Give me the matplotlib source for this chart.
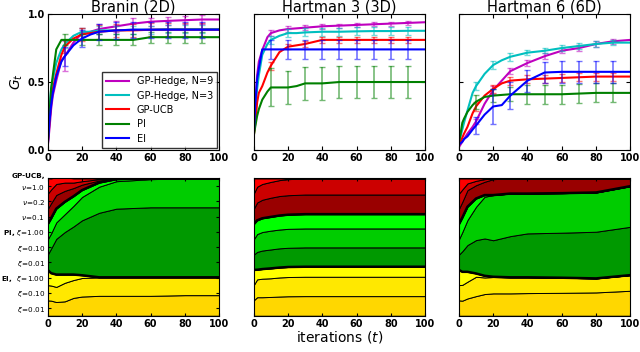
import numpy as np
import matplotlib
matplotlib.use("Agg")
import matplotlib.pyplot as plt

# ---- top row: G_t curves ----
titles = ["Branin (2D)", "Hartman 3 (3D)", "Hartman 6 (6D)"]
labels = ["GP-Hedge, N=9", "GP-Hedge, N=3", "GP-UCB", "PI", "EI"]
colors = ["m", "c", "r", "g", "b"]

it = [0, 1, 2, 3, 5, 8, 10, 15, 20, 25, 30, 40, 50, 60, 70, 80, 90, 100]
err_it = [10, 20, 30, 40, 50, 60, 70, 80, 90]

branin = [
    [0.02, 0.15, 0.30, 0.40, 0.51, 0.66, 0.69, 0.79, 0.86, 0.87, 0.89, 0.91, 0.93, 0.944, 0.95, 0.955, 0.96, 0.96],
    [0.05, 0.30, 0.45, 0.52, 0.64, 0.74, 0.78, 0.84, 0.87, 0.87, 0.88, 0.88, 0.885, 0.885, 0.89, 0.89, 0.89, 0.89],
    [0.03, 0.20, 0.35, 0.45, 0.56, 0.70, 0.76, 0.82, 0.85, 0.86, 0.87, 0.88, 0.88, 0.885, 0.885, 0.885, 0.885, 0.885],
    [0.05, 0.25, 0.45, 0.55, 0.74, 0.81, 0.81, 0.81, 0.81, 0.81, 0.81, 0.81, 0.81, 0.83, 0.83, 0.83, 0.83, 0.83],
    [0.02, 0.20, 0.33, 0.42, 0.54, 0.65, 0.69, 0.77, 0.82, 0.85, 0.87, 0.88, 0.885, 0.885, 0.885, 0.885, 0.885, 0.885],
]
branin_err = [
    [0.11, 0.04, 0.04, 0.04, 0.04, 0.03, 0.03, 0.03, 0.03],
    [0.03, 0.03, 0.03, 0.03, 0.03, 0.03, 0.03, 0.03, 0.03],
    [0.05, 0.05, 0.05, 0.05, 0.05, 0.05, 0.05, 0.05, 0.05],
    [0.04, 0.04, 0.04, 0.04, 0.04, 0.04, 0.04, 0.04, 0.04],
    [0.07, 0.06, 0.06, 0.06, 0.06, 0.06, 0.06, 0.06, 0.06],
]
hart3 = [
    [0.10, 0.35, 0.55, 0.65, 0.735, 0.83, 0.86, 0.88, 0.89, 0.895, 0.90, 0.91, 0.915, 0.92, 0.925, 0.93, 0.935, 0.94],
    [0.10, 0.30, 0.45, 0.55, 0.70, 0.78, 0.81, 0.84, 0.86, 0.86, 0.865, 0.87, 0.87, 0.873, 0.875, 0.875, 0.877, 0.877],
    [0.10, 0.20, 0.35, 0.42, 0.47, 0.57, 0.62, 0.72, 0.76, 0.77, 0.78, 0.81, 0.81, 0.81, 0.81, 0.81, 0.81, 0.81],
    [0.10, 0.18, 0.25, 0.30, 0.37, 0.43, 0.46, 0.46, 0.46, 0.47, 0.49, 0.49, 0.50, 0.50, 0.50, 0.50, 0.50, 0.50],
    [0.10, 0.35, 0.52, 0.60, 0.74, 0.74, 0.74, 0.74, 0.74, 0.74, 0.74, 0.74, 0.74, 0.74, 0.74, 0.74, 0.74, 0.74],
]
hart3_err = [
    [0.02, 0.02, 0.02, 0.02, 0.015, 0.015, 0.015, 0.015, 0.015],
    [0.03, 0.03, 0.03, 0.03, 0.03, 0.03, 0.03, 0.03, 0.03],
    [0.03, 0.02, 0.02, 0.02, 0.02, 0.02, 0.02, 0.02, 0.02],
    [0.14, 0.12, 0.12, 0.12, 0.12, 0.12, 0.12, 0.12, 0.12],
    [0.07, 0.07, 0.07, 0.07, 0.07, 0.07, 0.07, 0.07, 0.07],
]
hart6 = [
    [0.02, 0.04, 0.06, 0.08, 0.12, 0.17, 0.21, 0.34, 0.44, 0.51, 0.58, 0.64, 0.69, 0.73, 0.75, 0.78, 0.80, 0.81],
    [0.05, 0.10, 0.15, 0.20, 0.29, 0.42, 0.47, 0.56, 0.625, 0.66, 0.686, 0.716, 0.73, 0.75, 0.765, 0.78, 0.79, 0.79],
    [0.04, 0.06, 0.09, 0.12, 0.17, 0.27, 0.32, 0.40, 0.45, 0.49, 0.51, 0.52, 0.525, 0.53, 0.535, 0.54, 0.54, 0.54],
    [0.05, 0.12, 0.20, 0.23, 0.28, 0.33, 0.355, 0.39, 0.40, 0.405, 0.41, 0.41, 0.41, 0.41, 0.415, 0.42, 0.42, 0.42],
    [0.04, 0.05, 0.06, 0.08, 0.10, 0.15, 0.18, 0.26, 0.32, 0.33, 0.40, 0.51, 0.57, 0.575, 0.575, 0.575, 0.575, 0.575],
]
hart6_err = [
    [0.02, 0.03, 0.02, 0.02, 0.02, 0.02, 0.02, 0.02, 0.02],
    [0.03, 0.03, 0.03, 0.02, 0.02, 0.02, 0.02, 0.02, 0.02],
    [0.03, 0.03, 0.03, 0.03, 0.03, 0.03, 0.03, 0.03, 0.03],
    [0.05, 0.05, 0.05, 0.07, 0.07, 0.07, 0.07, 0.07, 0.07],
    [0.06, 0.13, 0.10, 0.08, 0.08, 0.08, 0.08, 0.08, 0.08],
]

# ---- bottom row: portfolio fractions (top band first) ----
ts = [0, 2, 5, 10, 15, 20, 30, 40, 60, 80, 100]
band_labels = [r"$\nu\!=\!1.0$", r"$\nu\!=\!0.2$", r"$\nu\!=\!0.1$",
               r"PI, $\xi\!=\!1.00$", r"$\xi\!=\!0.10$", r"$\xi\!=\!0.01$",
               r"EI,  $\xi\!=\!1.00$", r"$\xi\!=\!0.10$", r"$\xi\!=\!0.01$"]
band_colors = ["#ff0000", "#cc0000", "#990000",
               "#00ff00", "#00cc00", "#009900",
               "#ffff00", "#ffe800", "#ffd700"]

branin_frac = [
    [.111, .08, .05, .04, .03, .02, .005, 0, 0, 0, 0],
    [.111, .10, .08, .06, .04, .025, .01, 0, 0, 0, 0],
    [.111, .11, .10, .08, .06, .04, .015, .005, 0, 0, 0],
    [.111, .11, .10, .09, .07, .05, .03, .015, .005, 0, 0],
    [.111, .11, .12, .13, .15, .17, .19, .20, .205, .21, .21],
    [.111, .18, .26, .31, .35, .40, .47, .50, .51, .51, .51],
    [.111, .09, .09, .06, .04, .02, 0, 0, 0, 0, 0],
    [.111, .11, .11, .135, .13, .135, .135, .135, .135, .13, .13],
    [.112, .11, .10, .105, .13, .14, .145, .145, .145, .15, .15],
]
hart3_frac = [
    [.111, .06, .04, .025, .012, .005, 0, 0, 0, 0, 0],
    [.111, .115, .115, .115, .116, .117, .117, .117, .117, .117, .117],
    [.111, .13, .135, .14, .142, .142, .143, .143, .143, .143, .143],
    [.111, .10, .10, .10, .102, .103, .104, .104, .104, .104, .104],
    [.111, .13, .135, .137, .137, .138, .138, .138, .138, .138, .138],
    [.111, .13, .135, .138, .14, .14, .141, .141, .141, .141, .141],
    [.111, .07, .07, .072, .072, .073, .073, .073, .073, .073, .073],
    [.111, .13, .135, .136, .139, .14, .141, .141, .141, .141, .141],
    [.112, .135, .135, .137, .14, .142, .143, .143, .143, .143, .143],
]
hart6_frac = [
    [.111, .08, .036, .017, .005, 0, 0, 0, 0, 0, 0],
    [.111, .09, .049, .032, .019, .005, 0, 0, 0, 0, 0],
    [.111, .115, .121, .097, .097, .116, .11, .11, .107, .102, .056],
    [.111, .105, .097, .06, .012, 0, 0, 0, 0, 0, 0],
    [.111, .14, .182, .243, .304, .329, .31, .29, .288, .286, .296],
    [.111, .15, .195, .243, .272, .266, .30, .32, .328, .34, .352],
    [.111, .095, .072, .024, .012, .002, 0, 0, 0, 0, 0],
    [.111, .115, .122, .141, .121, .119, .117, .115, .11, .102, .114],
    [.112, .11, .126, .143, .158, .163, .163, .165, .167, .17, .182],
]

curves = [branin, hart3, hart6]
errs = [branin_err, hart3_err, hart6_err]
fracs = [branin_frac, hart3_frac, hart6_frac]

fig = plt.figure(figsize=(6.4, 3.52), dpi=100)
lefts = [0.0745, 0.3964, 0.717]
w = 0.268
tick_font = {"fontsize": 7, "fontweight": "bold"}

for k in range(3):
    ax = fig.add_axes([lefts[k], 0.574, w, 0.386])
    for s in range(5):
        ax.plot(it, curves[k][s], color=colors[s], lw=1.5, label=labels[s])
        ey = np.interp(err_it, it, curves[k][s])
        ax.errorbar(err_it, ey, yerr=errs[k][s], fmt="none", ecolor=colors[s],
                    alpha=0.55, elinewidth=1.2, capsize=2)
    ax.set_xlim(0, 100)
    ax.set_ylim(0, 1.0)
    ax.set_xticks([0, 20, 40, 60, 80, 100])
    ax.set_xticklabels(["0", "20", "40", "60", "80", "100"], **tick_font)
    ax.set_yticks([0.0, 0.5, 1.0])
    if k == 0:
        ax.set_yticklabels(["0.0", "0.5", "1.0"], **tick_font)
        ax.set_ylabel(r"$G_t$", fontsize=10, labelpad=2)
        leg = ax.legend(loc="lower right", fontsize=7, handlelength=2.4,
                        borderaxespad=0.25, fancybox=False, labelspacing=0.45)
        leg.get_frame().set_edgecolor("black")
    else:
        ax.set_yticklabels([])
    ax.tick_params(direction="in", length=3, pad=2, top=True, right=True)
    ax.set_title(titles[k], fontsize=10.5, pad=2)

    bx = fig.add_axes([lefts[k], 0.103, w, 0.390])
    # stackplot builds from the bottom, so feed the bands in reverse
    bx.stackplot(ts, fracs[k][::-1], colors=band_colors[::-1],
                 edgecolor="black", lw=0.7)
    cum = np.cumsum(np.array(fracs[k])[::-1], axis=0)
    # thick separators between the EI / PI / GP-UCB groups
    bx.plot(ts, cum[2], color="black", lw=1.8)
    bx.plot(ts, cum[5], color="black", lw=1.8)
    bx.set_xlim(0, 100)
    bx.set_ylim(0, 1)
    bx.set_xticks([0, 20, 40, 60, 80, 100])
    bx.set_xticklabels(["0", "20", "40", "60", "80", "100"], **tick_font)
    if k == 0:
        pos = [(8.5 - i) / 9 for i in range(9)]
        bx.set_yticks(pos)
        bx.set_yticklabels(band_labels, fontsize=5.2, fontweight="bold")
        bx.text(-0.015, 1.015, "GP-UCB,", transform=bx.transAxes, ha="right",
                va="center", fontsize=5.2, fontweight="bold")
    else:
        bx.set_yticks([])
    bx.tick_params(direction="in", length=2, pad=2, top=True, right=True)
    if k == 1:
        bx.set_xlabel(r"iterations ($t$)", fontsize=10, labelpad=0)

fig.savefig("out.png", dpi=100)
